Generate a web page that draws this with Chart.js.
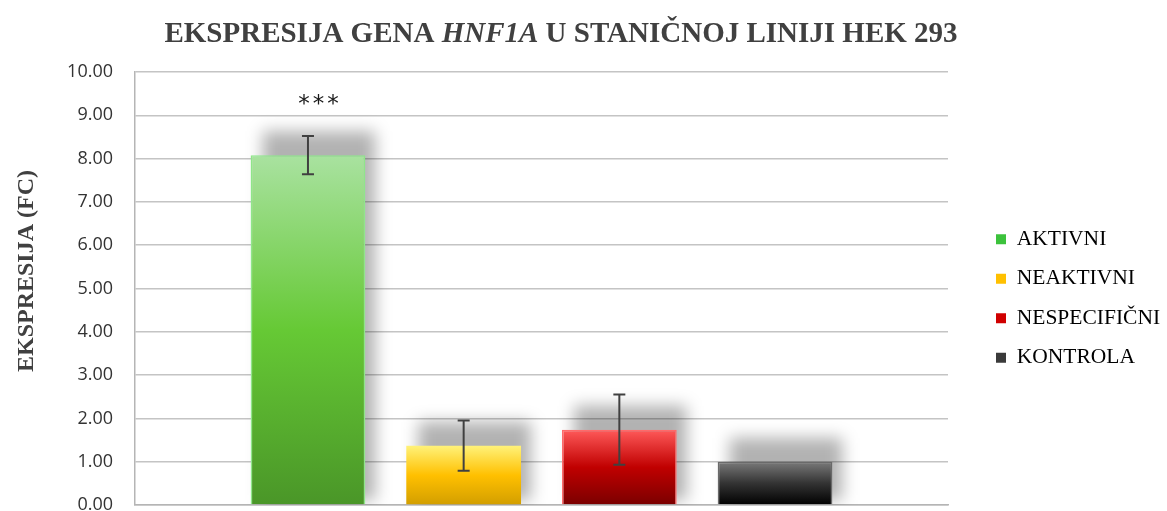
<!DOCTYPE html>
<html>
<head>
<meta charset="utf-8">
<script src="https://cdn.jsdelivr.net/npm/chart.js@4.4.1/dist/chart.umd.min.js"></script>
<style>
  html, body { margin: 0; padding: 0; background: #fff; }
  #wrap { width: 1167px; height: 511px; position: relative; }
</style>
</head>
<body>
<div id="wrap"><canvas id="chart"></canvas></div>
<script>
// chart data
const categories = [""];
const seriesNames = ["AKTIVNI", "NEAKTIVNI", "NESPECIFIČNI", "KONTROLA"];
const meanValues = [8.08, 1.37, 1.74, 1.00];
const errorValues = [0.44, 0.58, 0.81, 0];
const significance = ["***", "", "", ""];
const yTicks = [0, 1, 2, 3, 4, 5, 6, 7, 8, 9, 10];
const yTitle = "EKSPRESIJA (FC)";

// gradient stops for each bar (top, middle, bottom) + border
const barStops = [
    ["#a9e2a0", "#66c935", "#4a9628"],
    ["#fff27a", "#ffc000", "#d29e00"],
    ["#ff5a5a", "#c00000", "#7a0000"],
    ["#7a7a7a", "#333333", "#000000"]
];
const barBorders = ["#8fe68a", "#ffc000", "#ff6a6a", "#6a6a6a"];
const borderWidths = [1.5, 0, 1.5, 1.5];
const legendColors = ["#3cc23c", "#ffc000", "#d00000", "#3a3a3a"];

const barGradient = (ctx, i) => {
    const chart = ctx.chart;
    if (!chart.chartArea || !chart.scales.y) return barStops[i][1];
    const y = chart.scales.y;
    const top = y.getPixelForValue(meanValues[i]);
    const bottom = y.getPixelForValue(0);
    const g = chart.ctx.createLinearGradient(0, top, 0, bottom);
    g.addColorStop(0, barStops[i][0]);
    g.addColorStop(0.5, barStops[i][1]);
    g.addColorStop(1, barStops[i][2]);
    return g;
}

// title with italic gene name, drawn on canvas
const titleParts = [
    { text: "EKSPRESIJA GENA ", italic: false },
    { text: "HNF1A", italic: true },
    { text: " U STANIČNOJ LINIJI HEK 293", italic: false }
];

const titlePlugin = {
    id: "mixedTitle",
    afterDraw(chart) {
        const c = chart.ctx;
        c.save();
        c.fillStyle = "#404040";
        c.textBaseline = "alphabetic";
        const fontFor = p => (p.italic ? "italic " : "") + "bold 29px 'Liberation Serif'";
        let total = 0;
        titleParts.forEach(p => { c.font = fontFor(p); total += c.measureText(p.text).width; });
        let x = 561 - total / 2;
        titleParts.forEach(p => {
            c.font = fontFor(p);
            c.fillText(p.text, x, 42);
            x += c.measureText(p.text).width;
        });

        // y axis title, a bit above the plot's middle like the original
        c.translate(27, 271);
        c.rotate(-Math.PI / 2);
        c.font = "bold 24px 'Liberation Serif'";
        c.textAlign = "center";
        c.textBaseline = "middle";
        c.fillText(yTitle, 0, 0);
        c.restore();
    }
}

// soft shadows behind the bars (drawn before the bars cover them)
const shadowPlugin = {
    id: "barShadow",
    beforeDatasetsDraw(chart) {
        const c = chart.ctx;
        const area = chart.chartArea;
        c.save();
        c.beginPath();
        c.rect(area.left, area.top - 40, area.right - area.left, area.bottom - area.top + 40);
        c.clip();
        chart.data.datasets.forEach((ds, i) => {
            const bar = chart.getDatasetMeta(i).data[0];
            if (!bar) return;
            const w = bar.width;
            c.filter = "blur(8px)";
            c.fillStyle = "rgba(0,0,0,0.30)";
            c.fillRect(bar.x - w / 2 + 12, bar.y - 24, w - 2, bar.base - bar.y + 20);
        });
        c.restore();
    }
}

// error bars and significance stars
const errorPlugin = {
    id: "errorBars",
    afterDatasetsDraw(chart) {
        const c = chart.ctx;
        const y = chart.scales.y;
        c.save();
        c.strokeStyle = "#404040";
        c.lineWidth = 2;
        chart.data.datasets.forEach((ds, i) => {
            const bar = chart.getDatasetMeta(i).data[0];
            if (!bar) return;
            const x = bar.x;
            if (errorValues[i] > 0) {
                const yTop = y.getPixelForValue(meanValues[i] + errorValues[i]);
                const yBot = y.getPixelForValue(meanValues[i] - errorValues[i]);
                c.beginPath();
                c.moveTo(x, yTop); c.lineTo(x, yBot);
                c.moveTo(x - 6, yTop); c.lineTo(x + 6, yTop);
                c.moveTo(x - 6, yBot); c.lineTo(x + 6, yBot);
                c.stroke();
            }
            if (significance[i]) {
                const yTop = y.getPixelForValue(meanValues[i] + errorValues[i]);
                c.fillStyle = "#1a1a1a";
                c.font = "23px 'DejaVu Sans'";
                c.letterSpacing = "3px";
                c.textAlign = "center";
                c.textBaseline = "middle";
                c.fillText(significance[i], x + 12, yTop - 31);
            }
        });
        c.restore();
    }
}

// fixed legend width so the plot ends where the reference does
const legendFitPlugin = {
    id: "legendFit",
    beforeLayout(chart) {
        const lg = chart.legend;
        if (lg && !lg._wrapped) {
            const orig = lg.fit;
            lg.fit = function () { orig.call(this); this.width = 219; };
            lg._wrapped = true;
        }
    },
    afterLayout(chart) {
        if (chart.legend) {
            chart.legend.left += 30;
            chart.legend.top += 10;
            chart.legend.bottom += 10;
        }
    }
}

const datasets = seriesNames.map((name, i) => ({
    label: name,
    data: [meanValues[i]],
    backgroundColor: ctx => barGradient(ctx, i),
    borderColor: barBorders[i],
    borderWidth: borderWidths[i],
    categoryPercentage: 0.766,
    barPercentage: 0.737
}));

const chart = new Chart(document.getElementById("chart"), {
    type: "bar",
    data: { labels: categories, datasets: datasets },
    plugins: [legendFitPlugin, shadowPlugin, errorPlugin, titlePlugin],
    options: {
        responsive: true,
        maintainAspectRatio: false,
        animation: false,
        layout: { padding: { top: 72, bottom: 6, left: 0, right: 0 } },
        scales: {
            x: {
                grid: { display: false, drawTicks: false },
                ticks: { display: false },
                border: { color: "#b5b5b5", width: 1.5 },
                afterFit: scale => { scale.height = 0; }
            },
            y: {
                min: 0,
                max: 10,
                afterBuildTicks: scale => { scale.ticks = yTicks.map(v => ({ value: v })); },
                afterFit: scale => {
                    scale.width = 135;
                    scale.paddingTop = 0;
                    scale.paddingBottom = 0;
                },
                ticks: {
                    callback: v => Number(v).toFixed(2),
                    font: { family: "'Open Sans'", size: 18 },
                    color: "#333333",
                    padding: 22
                },
                grid: { color: "#c4c4c4", lineWidth: 1.5, drawTicks: false },
                border: { color: "#b5b5b5", width: 1.5 }
            }
        },
        plugins: {
            title: { display: false },
            tooltip: { enabled: false },
            legend: {
                position: "right",
                align: "center",
                labels: {
                    font: { family: "Liberation Serif, serif", size: 21.5 },
                    color: "#000",
                    boxWidth: 10,
                    boxHeight: 10,
                    padding: 18,
                    generateLabels: ch => ch.data.datasets.map((ds, i) => ({
                        text: ds.label,
                        fillStyle: legendColors[i],
                        strokeStyle: legendColors[i],
                        lineWidth: 0,
                        datasetIndex: i
                    }))
                }
            }
        }
    }
})
</script>
</body>
</html>
